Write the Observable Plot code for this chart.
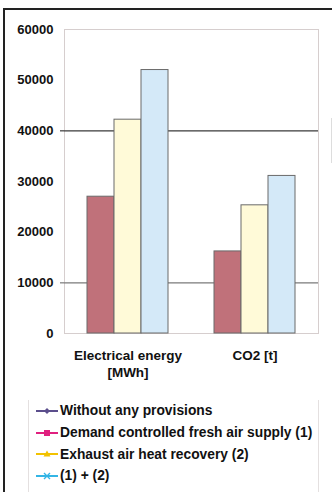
<!DOCTYPE html>
<html>
<head>
<meta charset="utf-8">
<script src="https://cdn.jsdelivr.net/npm/d3@7"></script>
<script src="https://cdn.jsdelivr.net/npm/@observablehq/plot@0.6"></script>
<style>
  html, body { margin: 0; padding: 0; background: #fff; }
  body { width: 332px; height: 492px; overflow: hidden; position: relative; font-family: "Liberation Sans", Arial, sans-serif; }
  #outer { position: absolute; left: 3px; top: 8px; width: 400px; height: 600px; border-left: 2px solid #222; border-top: 2px solid #222; }
  #side { position: absolute; left: 331px; top: 118px; width: 1px; height: 45px; background: #ddd; }
  #chart { position: absolute; left: 0; top: 0; }
  #legend { position: absolute; left: 28px; top: 400px; width: 289px; height: 100px; border-left: 1px solid #e4e0e0; border-right: 1px solid #e4e0e0; }
  .item { display: flex; align-items: center; height: 21.7px; font-weight: bold; font-size: 13.8px; color: #111; white-space: nowrap; }
  .item svg { margin-left: 7px; margin-right: 2px; }
</style>
</head>
<body>
<div id="outer"></div>
<div id="side"></div>
<div id="chart"></div>
<div id="legend"></div>
<script>
// Categories (x groups)
const categories = ["Electrical energy\n[MWh]", "CO2 [t]"];
// Bar series shown
const barSeries = ["A", "B", "C"];
const barColors = ["#C0717A", "#FFFAD8", "#D4E9F8"];
// Values per series, per category
const seriesA = [27000, 16200];
const seriesB = [42200, 25300];
const seriesC = [52000, 31100];
// Y ticks
const yTicks = [0, 10000, 20000, 30000, 40000, 50000, 60000];
const gridDark = [40000];
const gridLight = [10000];
// Legend entries
const legendLabels = ["Without any provisions", "Demand controlled fresh air supply (1)", "Exhaust air heat recovery (2)", "(1) + (2)"];
const legendColors = ["#5B4E8C", "#E0207F", "#F2C200", "#33B5E5"];
const legendMarkers = ["diamond", "square", "triangle", "x"];

const rows = [];
const allSeries = [seriesA, seriesB, seriesC];
categories.forEach((c, i) => {
  barSeries.forEach((s, j) => rows.push({category: c, series: s, value: allSeries[j][i]}));
});

const chart = Plot.plot({
  width: 332,
  height: 385,
  marginLeft: 64,
  marginRight: 14,
  marginTop: 29,
  marginBottom: 52,
  style: {background: "transparent", fontFamily: "Liberation Sans, Arial, sans-serif"},
  fx: {domain: categories, padding: 0, label: null},
  x: {domain: barSeries, paddingInner: 0, paddingOuter: 0.77, axis: null},
  y: {domain: [0, 60000], label: null},
  color: {domain: barSeries, range: barColors},
  marks: [
    Plot.frame({facet: "super", stroke: "#d6cece"}),
    Plot.ruleY(gridLight, {stroke: "#7a7a7a", strokeWidth: 1.2}),
    Plot.ruleY(gridDark, {stroke: "#3a3a3a", strokeWidth: 1.2}),
    Plot.barY(rows, {fx: "category", x: "series", y: "value", fill: "series", stroke: "#6a6a6a", strokeWidth: 1}),
    Plot.axisY({ticks: gridLight, tickSize: 4, text: null, stroke: "#7a7a7a", strokeWidth: 1.2, label: null}),
    Plot.axisY({ticks: gridDark, tickSize: 4, text: null, stroke: "#3a3a3a", strokeWidth: 1.2, label: null}),
    Plot.axisY({ticks: yTicks, tickSize: 0, tickPadding: 11, tickFormat: d => String(d), fontSize: 13, fontWeight: "bold", fill: "#111", label: null}),
    Plot.axisFx({anchor: "bottom", tickSize: 0, tickPadding: 15, fontSize: 13.5, fontWeight: "bold", fill: "#111", lineHeight: 1.25, label: null})
  ]
});
document.getElementById("chart").appendChild(chart);

const legend = document.getElementById("legend");
legendLabels.forEach((label, i) => {
  const color = legendColors[i];
  const m = legendMarkers[i];
  let marker = "";
  if (m === "diamond") marker = `<path d="M11,3 L14,6 L11,9 L8,6 Z" fill="${color}"/>`;
  else if (m === "square") marker = `<rect x="8" y="3" width="6" height="6" fill="${color}"/>`;
  else if (m === "triangle") marker = `<path d="M11,2.5 L14.5,8.5 L7.5,8.5 Z" fill="${color}"/>`;
  else marker = `<path d="M8,3 L14,9 M14,3 L8,9" stroke="${color}" stroke-width="1.4"/>`;
  const div = document.createElement("div");
  div.className = "item";
  div.innerHTML = `<svg width="22" height="12"><line x1="0" y1="6" x2="22" y2="6" stroke="${color}" stroke-width="2"/>${marker}</svg><span>${label}</span>`;
  legend.appendChild(div);
});
</script>
</body>
</html>
